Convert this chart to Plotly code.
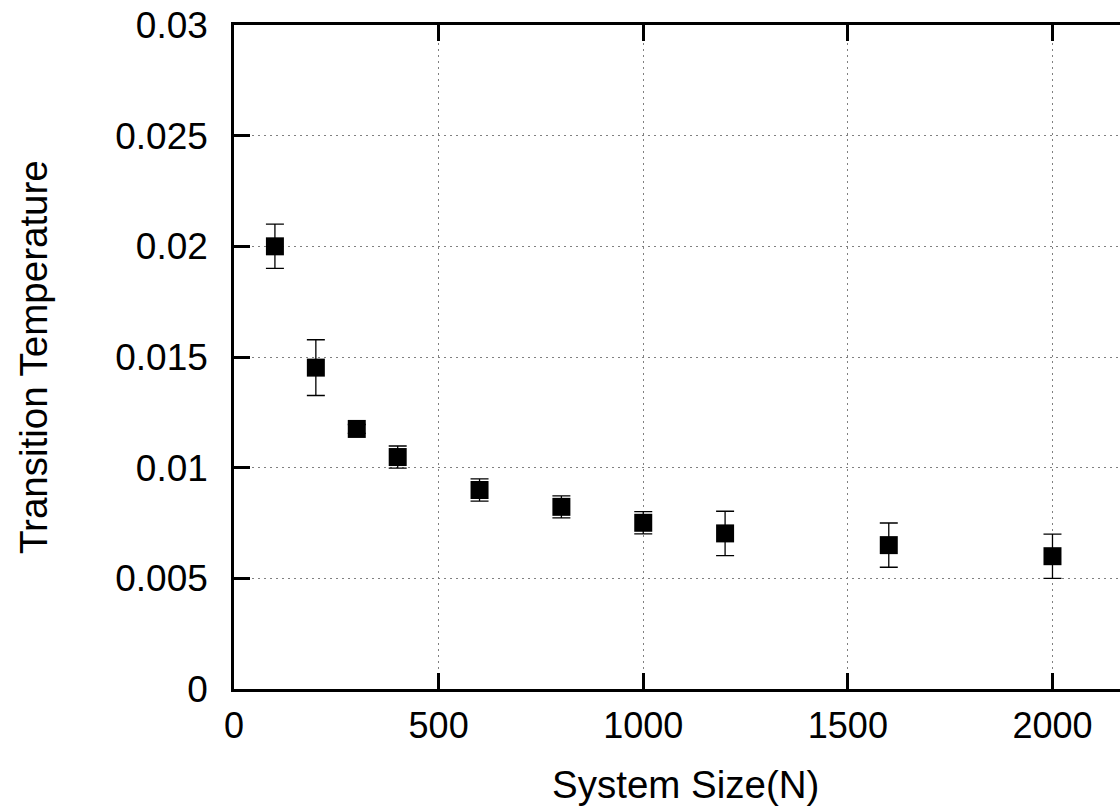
import plotly.graph_objects as go

# Data
system_size = [100, 200, 300, 400, 600, 800, 1000, 1200, 1600, 2000]
transition_temp = [0.0200, 0.01452, 0.01175, 0.01048, 0.00899, 0.00823, 0.00751, 0.00703, 0.00650, 0.00600]
temp_error = [0.0010, 0.00126, 0.0002, 0.0005, 0.0005, 0.0005, 0.0005, 0.0010, 0.0010, 0.0010]

x_title = "System Size(N)"
y_title = "Transition Temperature"

FONT = "Liberation Sans, Arial, Helvetica, sans-serif"

fig = go.Figure()
fig.add_trace(go.Scatter(
    x=system_size,
    y=transition_temp,
    mode="markers",
    marker=dict(symbol="square", size=18, color="black"),
    error_y=dict(type="data", array=temp_error, visible=True,
                 color="black", thickness=1.3, width=9),
    showlegend=False,
))

axis_common = dict(
    showline=True, linecolor="black", linewidth=2.5,
    ticks="inside", ticklen=16, tickwidth=2.5, tickcolor="black",
    showgrid=True, gridcolor="#808080", gridwidth=1, griddash="2px,4px",
    zeroline=False,
)

fig.update_xaxes(range=[0, 2165], tick0=0, dtick=500, mirror="ticks",
                 ticklabelstandoff=3,
                 tickfont=dict(family=FONT, size=36, color="black"),
                 **axis_common)
fig.update_yaxes(range=[0, 0.03], tick0=0, dtick=0.005, mirror=False,
                 ticklabelstandoff=16,
                 tickfont=dict(family=FONT, size=37, color="black"),
                 **axis_common)

fig.add_annotation(text=y_title, xref="paper", yref="paper",
                   x=(33 - 234) / 886, y=(689 - 357) / 664, textangle=-90,
                   xanchor="center", yanchor="middle", showarrow=False,
                   font=dict(family=FONT, size=38.5, color="black"))
fig.add_annotation(text=x_title, xref="paper", yref="paper",
                   x=(685 - 234) / 886, y=(689 - 784) / 664,
                   xanchor="center", yanchor="middle", showarrow=False,
                   font=dict(family=FONT, size=38.5, color="black"))

fig.update_layout(
    width=1120, height=808,
    margin=dict(l=234, r=0, t=25, b=119),
    paper_bgcolor="white", plot_bgcolor="white",
    font=dict(family=FONT, color="black"),
)

fig.write_html("out.html")
